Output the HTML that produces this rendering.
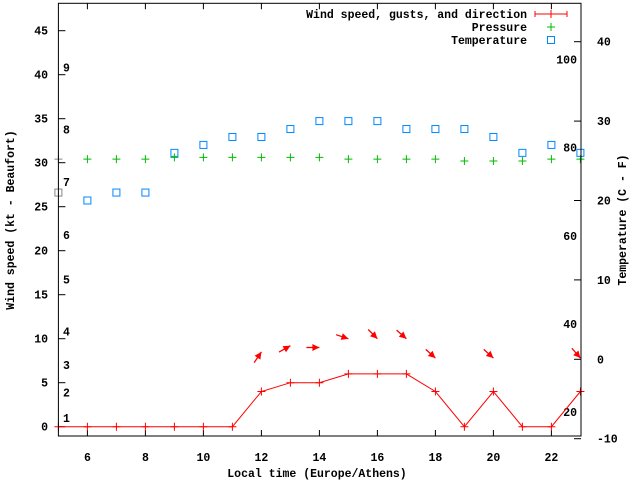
<!DOCTYPE html>
<html><head><meta charset="utf-8"><style>
body{margin:0;background:#fff}
svg{display:block}
text{font-family:"Liberation Mono",monospace;font-size:11.5px;font-weight:bold;fill:#000}
</style></head><body>
<svg id="chart" width="640" height="480">
<rect x="0" y="0" width="640" height="480" fill="#fff"/>
<g id="grid"></g>
<g id="marks"></g>
<rect x="58.4" y="3.3" width="522.6" height="432.7" fill="none" stroke="#000" stroke-width="1"/>
<text x="14" y="220" transform="rotate(-90 14 220)" text-anchor="middle">Wind speed (kt - Beaufort)</text>
<text x="626" y="220" transform="rotate(-90 626 220)" text-anchor="middle">Temperature (C - F)</text>
<text x="317" y="477" text-anchor="middle">Local time (Europe/Athens)</text>
<g>
<text x="527" y="18" text-anchor="end">Wind speed, gusts, and direction</text>
<line x1="535" y1="14" x2="567" y2="14" stroke="#f00"/>
<path d="M535 11v6M567 11v6M551 10v8" stroke="#f00"/>
<text x="527" y="31" text-anchor="end">Pressure</text>
<path d="M547 27h8M551 23v8" stroke="#0b0"/>
<text x="527" y="44" text-anchor="end">Temperature</text>
<rect x="547.5" y="36.5" width="7" height="7" fill="none" stroke="#08f"/>
</g>
</svg>
<script>
const hours=[5,6,7,8,9,10,11,12,13,14,15,16,17,18,19,20,21,22,23];
const windKt=[0,0,0,0,0,0,0,4,5,5,6,6,6,4,0,4,0,0,4];
const pressure=[30.4,30.4,30.4,30.4,30.6,30.6,30.6,30.6,30.6,30.6,30.4,30.4,30.4,30.4,30.2,30.2,30.2,30.4,30.4];
const tempC=[21,20,21,21,26,27,28,28,29,30,30,30,29,29,29,28,26,27,26];
const gustHours=[12,13,14,15,16,17,18,20,23];
const gustKt=[8.5,9.2,9,10,10,10,7.8,7.8,7.8];
const gustBearing=[34,61,90,108,135,131,132,132,139];
const xTicks=[6,8,10,12,14,16,18,20,22];
const yTicks=[0,5,10,15,20,25,30,35,40,45];
const y2Ticks=[-10,0,10,20,30,40];
const fTicks=[20,40,60,80,100];
const beaufortLabels=[1,2,3,4,5,6,7,8,9];
const beaufortKt=[1,3.9,7,10.8,16.7,21.8,27.8,33.8,40.8];
const X=h=>58.4+(h-5)*29;
const Y=v=>426.7-v*8.8;
const Y2=c=>359.3-c*7.94;
const NS='http://www.w3.org/2000/svg';
const grid=document.getElementById('grid'),marks=document.getElementById('marks');
function mk(p,tag,attrs){const e=document.createElementNS(NS,tag);for(const k in attrs)e.setAttribute(k,attrs[k]);p.appendChild(e);return e;}
xTicks.forEach(h=>{
 const t=mk(grid,'path',{d:`M${X(h)} 436v-6M${X(h)} 3.3v6`,stroke:'#000'});
 
 
 const l=mk(grid,'text',{x:X(h),y:461,'text-anchor':'middle'});l.textContent=h;
 
 
});
yTicks.forEach(v=>{
 const t=mk(grid,'path',{d:`M58.4 ${Y(v)}h7`,stroke:'#000'});
 
 
 const l=mk(grid,'text',{x:48,y:Y(v)+4,'text-anchor':'end'});l.textContent=v;
 
 
});
y2Ticks.forEach(v=>{
 const t=mk(grid,'path',{d:`M581 ${Y2(v)}h-7`,stroke:'#000'});
 
 
 const l=mk(grid,'text',{x:597,y:Y2(v)+4});l.textContent=v;
 
 
});
fTicks.forEach(f=>{
 const l=mk(grid,'text',{x:577,y:Y2((f-32)*5/9)+4,'text-anchor':'end'});l.textContent=f;
 
 
});
beaufortLabels.forEach((b,i)=>{
 const l=mk(grid,'text',{x:63,y:Y(beaufortKt[i])+4});l.textContent=b;
 
 
});
// temperature
hours.forEach((h,i)=>{
 const r=mk(marks,'rect',{x:X(h)-3.5,y:Y2(tempC[i])-3.5,width:7,height:7,fill:'none',stroke:h===5?'#888':'#08f'});
 
 
});
// pressure
hours.forEach((h,i)=>{
 const p=mk(marks,'path',{d:`M${X(h)-4} ${Y(pressure[i])}h8M${X(h)} ${Y(pressure[i])-4}v8`,stroke:h===5?'#888':'#0b0'});
 
 
});
// wind line
const ln=mk(marks,'polyline',{points:hours.map((h,i)=>X(h)+','+Y(windKt[i])).join(' '),fill:'none',stroke:'#f00'});


hours.forEach((h,i)=>{
 const p=mk(marks,'path',{d:`M${X(h)-4} ${Y(windKt[i])}h8M${X(h)} ${Y(windKt[i])-4}v8`,stroke:'#f00'});
 
 
});
// gust arrows
gustHours.forEach((h,i)=>{
 const hx=X(h),hy=Y(gustKt[i]);const a=gustBearing[i]*Math.PI/180;
 const dx=Math.sin(a),dy=-Math.cos(a);
 const tx=hx-dx*13,ty=hy-dy*13;
 const g=mk(marks,'g',{});
 
 
 mk(g,'line',{x1:tx,y1:ty,x2:hx,y2:hy,stroke:'#f00','stroke-width':1.3});
 const px=-dy,py=dx;
 mk(g,'polygon',{points:`${hx},${hy} ${hx-dx*7+px*3.5},${hy-dy*7+py*3.5} ${hx-dx*7-px*3.5},${hy-dy*7-py*3.5}`,fill:'#f00'});
});
</script>
</body></html>
